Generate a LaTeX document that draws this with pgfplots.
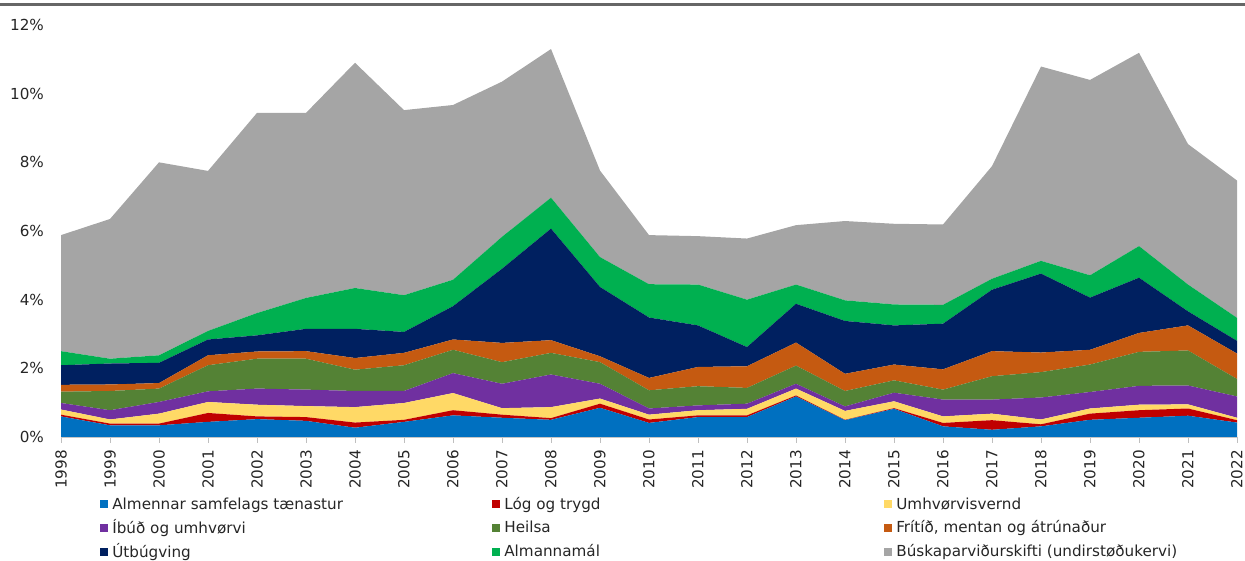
\documentclass[border=0pt]{standalone}
\usepackage{pgfplots}
\usepackage{pgfplotstable}
\pgfplotsset{compat=1.18}
\usepackage{fontspec}
\setmainfont{DejaVu Sans}

\definecolor{cBlue}{HTML}{0070C0}
\definecolor{cRed}{HTML}{C00000}
\definecolor{cYellow}{HTML}{FFD966}
\definecolor{cPurple}{HTML}{7030A0}
\definecolor{cGreen}{HTML}{548235}
\definecolor{cOrange}{HTML}{C55A11}
\definecolor{cNavy}{HTML}{002060}
\definecolor{cBright}{HTML}{00B050}
\definecolor{cGray}{HTML}{A5A5A5}

% share of GDP, per category (percent), stacked bottom to top
\pgfplotstableread{
year a    b    c    d    e    f    g    h    i
1998 0.60 0.05 0.15 0.19 0.33 0.20 0.57 0.41 3.38
1999 0.34 0.05 0.12 0.27 0.56 0.19 0.61 0.14 4.07
2000 0.34 0.05 0.29 0.34 0.39 0.16 0.59 0.22 5.62
2001 0.44 0.26 0.32 0.31 0.76 0.29 0.46 0.25 4.66
2002 0.52 0.08 0.34 0.47 0.87 0.21 0.47 0.65 5.83
2003 0.47 0.11 0.32 0.48 0.90 0.22 0.65 0.90 5.39
2004 0.27 0.15 0.45 0.47 0.62 0.34 0.85 1.19 6.56
2005 0.44 0.06 0.49 0.35 0.75 0.36 0.61 1.07 5.39
2006 0.63 0.15 0.50 0.58 0.68 0.30 0.97 0.77 5.09
2007 0.56 0.09 0.19 0.71 0.63 0.56 2.16 0.93 4.52
2008 0.50 0.05 0.32 0.95 0.63 0.37 3.25 0.90 4.33
2009 0.85 0.12 0.15 0.43 0.63 0.17 2.02 0.87 2.52
2010 0.41 0.10 0.14 0.18 0.53 0.36 1.76 0.97 1.43
2011 0.58 0.05 0.15 0.14 0.56 0.56 1.21 1.19 1.41
2012 0.58 0.05 0.19 0.15 0.46 0.63 0.56 1.38 1.78
2013 1.18 0.03 0.20 0.14 0.53 0.67 1.13 0.56 1.73
2014 0.49 0.01 0.26 0.13 0.45 0.50 1.54 0.60 2.31
2015 0.82 0.02 0.20 0.25 0.36 0.46 1.14 0.61 2.35
2016 0.31 0.10 0.19 0.49 0.29 0.59 1.33 0.55 2.34
2017 0.21 0.28 0.19 0.41 0.68 0.73 1.79 0.32 3.28
2018 0.31 0.06 0.14 0.64 0.74 0.57 2.30 0.37 5.66
2019 0.50 0.18 0.15 0.48 0.80 0.43 1.52 0.65 5.69
2020 0.56 0.22 0.16 0.55 0.99 0.55 1.61 0.92 5.63
2021 0.62 0.21 0.12 0.55 1.02 0.73 0.41 0.78 4.09
2022 0.42 0.07 0.07 0.62 0.51 0.74 0.37 0.67 4.00
}\data

% fixed-width legend cell with a strut so all rows line up
\newcommand{\lentry}[1]{\makebox[188pt][l]{\rule[-2.5pt]{0pt}{9pt}#1}}

\begin{document}
\begin{tikzpicture}[font=\fontsize{7.6}{9}\selectfont]
\useasboundingbox (0,0) rectangle (622.5pt,280.5pt);
\draw[line width=1.1pt, black!60] (0,278.2pt) -- (622.5pt,278.2pt);
\begin{axis}[
    at={(30.5pt,62pt)}, anchor=south west,
    scale only axis,
    width=588pt, height=206pt,
    xmin=1998, xmax=2022,
    ymin=0, ymax=12,
    stack plots=y,
    axis lines=left,
    axis line style={-},
    y axis line style={draw=none},
    x axis line style={draw=gray!45},
    xtick={1998,...,2022},
    ytick={0,2,...,12},
    yticklabels={0\%,2\%,4\%,6\%,8\%,10\%,12\%},
    xticklabel style={rotate=90, anchor=east, /pgf/number format/1000 sep={}, text=black!85},
    yticklabel style={text=black!85, xshift=-2pt},
    /pgf/number format/assume math mode=true,
    tick align=outside,
    x tick style={draw=gray!50},
    y tick style={draw=none},
    major tick length=3pt,
    legend columns=3,
    legend style={draw=none, fill=none, at={(0.028,-0.1235)}, anchor=north west,
        row sep=-0.55pt, /tikz/every even column/.append style={column sep=0pt},
        font=\fontsize{7.6}{9}\selectfont, text=black!85},
    legend image code/.code={\fill[#1] (0pt,-2pt) rectangle (4pt,2pt);},
    clip=false,
]
\addplot[fill=cBlue, draw=none] table[x=year, y=a] {\data} \closedcycle;
\addlegendentry{\lentry{Almennar samfelags tænastur}}
\addplot[fill=cRed, draw=none] table[x=year, y=b] {\data} \closedcycle;
\addlegendentry{\lentry{Lóg og trygd}}
\addplot[fill=cYellow, draw=none] table[x=year, y=c] {\data} \closedcycle;
\addlegendentry{\lentry{Umhvørvisvernd}}
\addplot[fill=cPurple, draw=none] table[x=year, y=d] {\data} \closedcycle;
\addlegendentry{\lentry{Íbúð og umhvørvi}}
\addplot[fill=cGreen, draw=none] table[x=year, y=e] {\data} \closedcycle;
\addlegendentry{\lentry{Heilsa}}
\addplot[fill=cOrange, draw=none] table[x=year, y=f] {\data} \closedcycle;
\addlegendentry{\lentry{Frítíð, mentan og átrúnaður}}
\addplot[fill=cNavy, draw=none] table[x=year, y=g] {\data} \closedcycle;
\addlegendentry{\lentry{Útbúgving}}
\addplot[fill=cBright, draw=none] table[x=year, y=h] {\data} \closedcycle;
\addlegendentry{\lentry{Almannamál}}
\addplot[fill=cGray, draw=none] table[x=year, y=i] {\data} \closedcycle;
\addlegendentry{\lentry{Búskaparviðurskifti (undirstøðukervi)}}
\end{axis}
\end{tikzpicture}
\end{document}
